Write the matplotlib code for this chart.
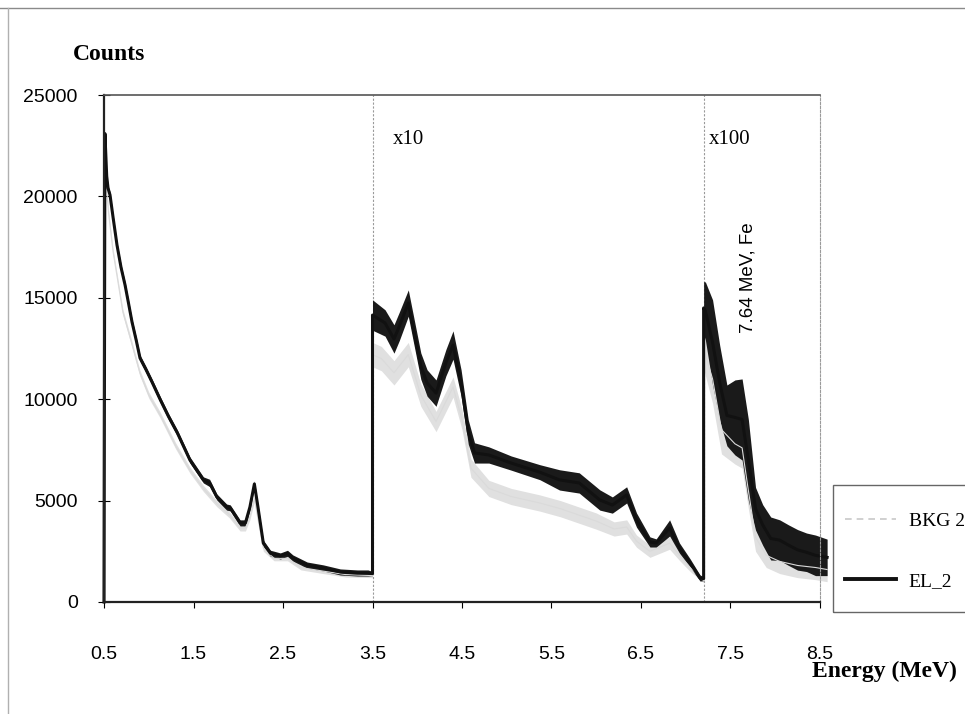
#!/usr/bin/env python
#
# Gamma spectrum of EL_2 against the background BKG 2.
# The middle part is scaled x10 and the high energy part x100.

import matplotlib
matplotlib.use("Agg")
import matplotlib.pyplot as plt
from matplotlib.lines import Line2D
from matplotlib.patches import Rectangle


# EL_2: energy (MeV), counts as plotted, and half-width of the noise band
energy = [0.50, 0.51, 0.53, 0.545, 0.567, 0.60, 0.645, 0.69, 0.735, 0.775,
          0.813, 0.86, 0.902, 0.97, 1.036, 1.13, 1.22, 1.32, 1.46, 1.61,
          1.68, 1.76, 1.87, 1.91, 2.02, 2.08, 2.13, 2.18, 2.22, 2.28,
          2.36, 2.47, 2.55, 2.61, 2.77, 2.95, 3.14, 3.33, 3.45, 3.50,
          3.50, 3.64, 3.74, 3.80, 3.90, 4.04, 4.11, 4.21, 4.32, 4.40,
          4.49, 4.57, 4.64, 4.80, 5.05, 5.37, 5.59, 5.81, 6.04, 6.18,
          6.34, 6.45, 6.60, 6.67, 6.82, 6.93, 7.05, 7.16, 7.20,
          7.20, 7.22, 7.30, 7.38, 7.46, 7.55, 7.63, 7.70, 7.78, 7.86,
          7.95, 8.05, 8.15, 8.25, 8.35, 8.45, 8.58]
el2 = [0, 23100, 21000, 20400, 20070, 19000, 17600, 16500, 15630, 14700,
       13800, 12900, 12030, 11450, 10850, 9960, 9150, 8330, 7000, 6020,
       5870, 5180, 4680, 4640, 3900, 3900, 4680, 5820, 4680, 2900,
       2400, 2270, 2400, 2170, 1820, 1680, 1480, 1430, 1430, 1400,
       14150, 13760, 12970, 13600, 14740, 11630, 10800, 10300, 11800, 12670,
       10800, 8380, 7350, 7250, 6850, 6400, 6020, 5870, 5030, 4780,
       5280, 4040, 2960, 2910, 3650, 2660, 1920, 1180, 1150,
       14500, 14350, 12800, 10800, 9200, 9100, 9000, 7000, 4600, 3800,
       3130, 3050, 2800, 2570, 2450, 2300, 2200]
el2_spread = [0, 0, 120, 150, 150, 150, 150, 150, 150, 150,
              150, 150, 150, 150, 150, 150, 150, 150, 150, 150,
              180, 150, 150, 150, 150, 150, 150, 150, 150, 150,
              150, 150, 150, 150, 150, 150, 150, 150, 150, 100,
              750, 650, 700, 700, 650, 650, 650, 650, 650, 700,
              650, 600, 500, 400, 350, 370, 500, 500, 500, 400,
              400, 350, 250, 200, 400, 250, 200, 150, 100,
              1300, 1430, 2100, 1850, 1500, 1850, 2000, 2000, 1050, 1000,
              1060, 1000, 1000, 1000, 950, 1000, 900]

# BKG 2
bkg_energy = [0.50, 0.51, 0.55, 0.60, 0.71, 0.80, 0.90, 1.00, 1.13, 1.30,
              1.46, 1.61, 1.76, 1.90, 2.02, 2.08, 2.13, 2.18, 2.22, 2.28,
              2.40, 2.55, 2.70, 2.95, 3.20, 3.50,
              3.50, 3.60, 3.74, 3.90, 4.04, 4.21, 4.40, 4.50, 4.60, 4.80,
              5.05, 5.37, 5.60, 6.00, 6.20, 6.34, 6.45, 6.60, 6.82, 6.93,
              7.05, 7.20,
              7.20, 7.30, 7.40, 7.55, 7.63, 7.70, 7.78, 7.90, 8.05, 8.25,
              8.45, 8.58]
bkg = [0, 21500, 19200, 17300, 14300, 12900, 11300, 10200, 9200, 7700,
       6500, 5600, 4850, 4300, 3650, 3650, 4200, 5100, 4100, 2650,
       2150, 2150, 1700, 1520, 1350, 1300,
       12200, 12000, 11300, 12200, 10200, 8900, 10600, 9000, 6600, 5600,
       5200, 4880, 4600, 3990, 3600, 3700, 3000, 2500, 2900, 2300,
       1700, 1050,
       12500, 11000, 8500, 7800, 7600, 5500, 3200, 2300, 2000, 1800,
       1700, 1600]
bkg_spread = [0, 0, 150, 150, 150, 150, 150, 150, 150, 150,
              150, 150, 150, 150, 150, 150, 150, 150, 150, 150,
              120, 120, 120, 120, 120, 100,
              600, 600, 600, 600, 550, 500, 500, 500, 450, 400,
              400, 400, 400, 400, 350, 350, 300, 300, 300, 250,
              200, 100,
              1000, 1200, 1200, 1000, 1000, 900, 700, 600, 600, 600,
              600, 600]

xticks = [0.5, 1.5, 2.5, 3.5, 4.5, 5.5, 6.5, 7.5, 8.5]
yticks = [0, 5000, 10000, 15000, 20000, 25000]
scale_breaks = [3.5, 7.2]
scale_labels = ["x10", "x100"]

serif = "Liberation Serif"
sans = "Liberation Sans"

fig = plt.figure(figsize=(9.65, 7.14), dpi=100)
ax = fig.add_axes([0.1078, 0.1569, 0.7419, 0.71])

# background first, the element spectrum on top of it
bkg_lo = [v - s for v, s in zip(bkg, bkg_spread)]
bkg_hi = [v + s for v, s in zip(bkg, bkg_spread)]
ax.fill_between(bkg_energy, bkg_lo, bkg_hi, color="#e0e0e0", lw=0, clip_on=False)
ax.plot(bkg_energy, bkg, color="#dadada", lw=0.8, clip_on=False)

el2_lo = [v - s for v, s in zip(el2, el2_spread)]
el2_hi = [v + s for v, s in zip(el2, el2_spread)]
ax.fill_between(energy, el2_lo, el2_hi, color="#1a1a1a", lw=0, clip_on=False)
ax.plot(energy, el2, color="#111111", lw=2.2, clip_on=False)

for xb in scale_breaks:
    ax.axvline(xb, color="#9a9a9a", lw=0.8, ls=(0, (2, 1.5)), zorder=0)

# scale factor written just right of each break
label_shift = [0.23, 0.06]
for xb, dx, lab in zip(scale_breaks, label_shift, scale_labels):
    ax.text(xb + dx, 22800, lab, family=serif, fontsize=15, ha="left", va="center")

ax.text(7.70, 16000, "7.64 MeV, Fe", family=sans, fontsize=13.5, rotation=90,
        ha="center", va="center")

ax.set_xlim(0.5, 8.5)
ax.set_ylim(0, 25000)
ax.set_xticks(xticks)
ax.set_xticklabels([str(x) for x in xticks])
ax.set_yticks(yticks)
ax.set_yticklabels([str(y) for y in yticks])
ax.tick_params(axis="x", direction="out", length=4, width=0.8, pad=28, labelsize=14)
ax.tick_params(axis="y", direction="inout", length=8, width=0.8, pad=15, labelsize=14)
for lab in ax.get_xticklabels() + ax.get_yticklabels():
    lab.set_family(sans)

for side in ["left", "bottom"]:
    ax.spines[side].set_color("#222222")
    ax.spines[side].set_linewidth(1.6)
ax.spines["top"].set_color("#555555")
ax.spines["top"].set_linewidth(1.2)
ax.spines["right"].set_color("#9a9a9a")
ax.spines["right"].set_linewidth(0.8)
ax.spines["right"].set_linestyle((0, (2, 1.5)))

fig.text(0.0757, 0.923, "Counts", family=serif, fontsize=17, fontweight="bold",
         ha="left", va="center")
fig.text(0.841, 0.059, "Energy (MeV)", family=serif, fontsize=17, fontweight="bold",
         ha="left", va="center")

# legend box runs off the right edge of the page
handles = [Line2D([], [], color="#c8c8c8", lw=1.2, ls=(0, (4, 3))),
           Line2D([], [], color="#111111", lw=2.8)]
fig.legend(handles, ["BKG 2", "EL_2"], loc="center left",
           bbox_to_anchor=(0.8756, 0.2283), bbox_transform=fig.transFigure,
           prop={"family": serif, "size": 14}, frameon=False,
           handlelength=2.6, handletextpad=0.67, labelspacing=2.2,
           borderpad=0, borderaxespad=0)
fig.add_artist(Rectangle((0.8632, 1 - 612 / 714), 0.2, 127 / 714,
                         transform=fig.transFigure, fill=False,
                         edgecolor="#666666", lw=1.0))

# page edges of the scan
fig.add_artist(Line2D([0.0, 1.0], [0.989, 0.989], color="#8a8a8a", lw=1.0))
fig.add_artist(Line2D([0.0078, 0.0078], [0.0, 0.989], color="#b0b0b0", lw=1.0))

plt.savefig("out.png", dpi=100)
